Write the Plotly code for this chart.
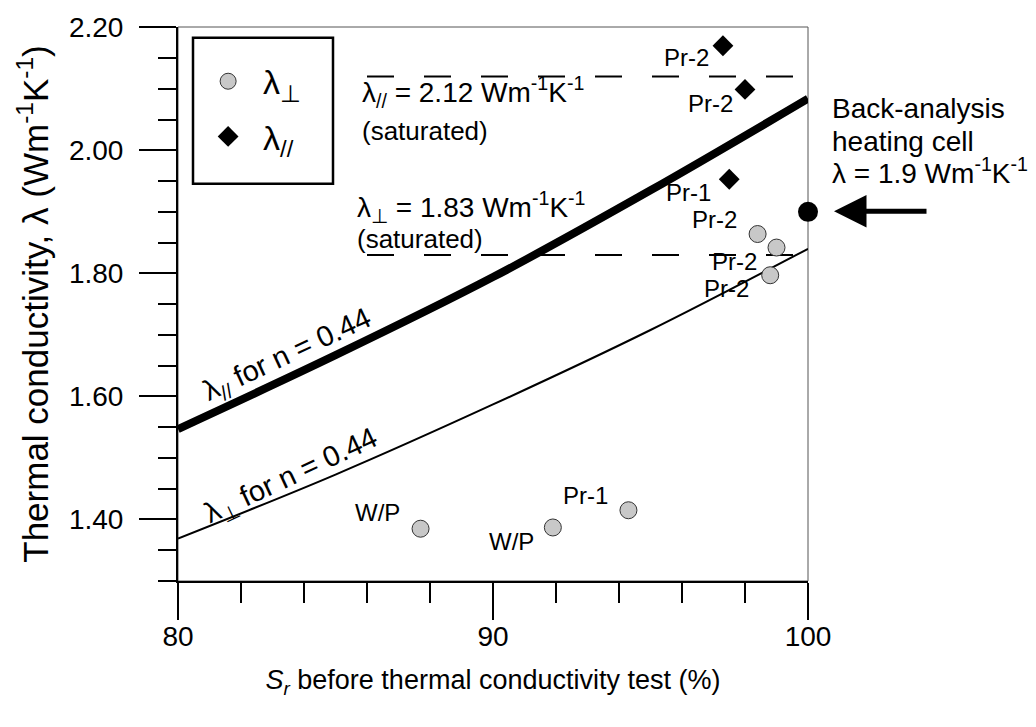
import plotly.graph_objects as go

# ---------------- data ----------------
sr_curve = [80, 85, 90, 95, 100]
lam_par_curve = [1.547, 1.667, 1.794, 1.935, 2.084]    # lambda // for n = 0.44
lam_perp_curve = [1.369, 1.473, 1.587, 1.708, 1.840]   # lambda perp for n = 0.44

perp_sr = [87.7, 91.9, 94.3, 98.4, 99.0, 98.8]
perp_lam = [1.385, 1.387, 1.415, 1.864, 1.842, 1.797]
perp_labels = ["W/P", "W/P", "Pr-1", "Pr-2", "Pr-2", "Pr-2"]

par_sr = [97.3, 98.0, 97.5]
par_lam = [2.170, 2.099, 1.953]
par_labels = ["Pr-2", "Pr-2", "Pr-1"]

sat_sr = [86.0, 100.0]
sat_par = 2.12
sat_perp = 1.83

back_sr = [100]
back_lam = [1.9]

x_tickvals = [80, 90, 100]
y_tickvals = [1.40, 1.60, 1.80, 2.00, 2.20]
y_ticktext = ["1.40", "1.60", "1.80", "2.00", "2.20"]

# ---------------- styles ----------------
FONT = "Liberation Sans, Arial, sans-serif"
perp_offsets = [(-19, 16), (-17, -14), (-18, 15), (-19, 15), (-18, -14), (-19, -13)]
par_offsets = [(-12, -12), (-10, -14), (-16, -13)]

fig = go.Figure()

# saturated dashed lines
fig.add_trace(go.Scatter(x=sat_sr, y=[sat_par, sat_par], mode="lines",
                         line=dict(color="black", width=2, dash="27px,30px"),
                         showlegend=False, hoverinfo="skip"))
fig.add_trace(go.Scatter(x=sat_sr, y=[sat_perp, sat_perp], mode="lines",
                         line=dict(color="black", width=2, dash="27px,30px"),
                         showlegend=False, hoverinfo="skip"))

# model curves
fig.add_trace(go.Scatter(x=sr_curve, y=lam_par_curve, mode="lines",
                         line=dict(color="black", width=8, shape="spline"),
                         showlegend=False))
fig.add_trace(go.Scatter(x=sr_curve, y=lam_perp_curve, mode="lines",
                         line=dict(color="black", width=2, shape="spline"),
                         showlegend=False))

# measured points
fig.add_trace(go.Scatter(x=perp_sr, y=perp_lam, mode="markers",
                         name="λ<sub>⊥</sub>", legendgroup="a",
                         marker=dict(symbol="circle", size=17, color="#c8c8c8",
                                     line=dict(color="#333333", width=1))))
fig.add_trace(go.Scatter(x=par_sr, y=par_lam, mode="markers",
                         name="λ<sub>//</sub>", legendgroup="b",
                         marker=dict(symbol="diamond", size=16, color="black",
                                     line=dict(color="black", width=0))))

# back-analysis point
fig.add_trace(go.Scatter(x=back_sr, y=back_lam, mode="markers", cliponaxis=False,
                         marker=dict(symbol="circle", size=20, color="black"),
                         showlegend=False))

annotations = []
for xv, yv, t, (dx, dy) in zip(perp_sr, perp_lam, perp_labels, perp_offsets):
    annotations.append(dict(x=xv, y=yv, xref="x", yref="y", text=t, showarrow=False,
                            xanchor="right", yanchor="middle", xshift=dx, yshift=dy,
                            font=dict(size=24, color="black", family=FONT)))
for xv, yv, t, (dx, dy) in zip(par_sr, par_lam, par_labels, par_offsets):
    annotations.append(dict(x=xv, y=yv, xref="x", yref="y", text=t, showarrow=False,
                            xanchor="right", yanchor="middle", xshift=dx, yshift=dy,
                            font=dict(size=24, color="black", family=FONT)))


def px2paper(px, py):
    return (px - 178) / 630.0, (581 - py) / 562.0


def text_at(px, py, txt, size=25, xanchor="left", angle=0):
    x, y = px2paper(px, py)
    annotations.append(dict(x=x, y=y, xref="paper", yref="paper", text=txt,
                            showarrow=False, xanchor=xanchor, yanchor="middle",
                            textangle=angle,
                            font=dict(size=size, color="black", family=FONT)))


text_at(360, 85, "λ<sub>//</sub> = 2.12 Wm<sup>-1</sup>K<sup>-1</sup>", size=28)
text_at(360, 124, "(saturated)", size=26)
text_at(355, 202, "λ<sub>⊥</sub> = 1.83 Wm<sup>-1</sup>K<sup>-1</sup>", size=28)
text_at(355, 234, "(saturated)", size=26)
text_at(287, 353, "λ<sub>//</sub> for n = 0.44", size=29, xanchor="center", angle=-25)
text_at(291, 476, "λ<sub>⊥</sub> for n = 0.44", size=29, xanchor="center", angle=-25)
text_at(830, 102, "Back-analysis", size=28)
text_at(830, 135, "heating cell", size=28)
text_at(830, 165, "λ = 1.9 Wm<sup>-1</sup>K<sup>-1</sup>", size=28)

# arrow
ax_, ay_ = px2paper(834, 206)
annotations.append(dict(x=ax_, y=ay_, xref="paper", yref="paper", text="",
                        showarrow=True, ax=94, ay=0, arrowhead=2, arrowsize=1.3,
                        arrowwidth=5, arrowcolor="black"))

# legend frame
lx0, ly1 = px2paper(193, 30)
lx1, ly0 = px2paper(333, 178)

fig.update_layout(
    width=1036, height=727,
    margin=dict(l=178, r=228, t=19, b=146),
    paper_bgcolor="white", plot_bgcolor="white",
    font=dict(family=FONT, color="black"),
    annotations=annotations,
    shapes=[dict(type="rect", xref="paper", yref="paper", x0=0, y0=0, x1=1, y1=1,
                 line=dict(color="#555555", width=1), layer="below"),
            dict(type="rect", xref="paper", yref="paper", x0=lx0, y0=ly0, x1=lx1, y1=ly1,
                 line=dict(color="black", width=2.5), fillcolor="white", layer="below")],
    legend=dict(x=0.024, y=(581 - 45) / 562.0, xanchor="left", yanchor="top",
                borderwidth=0, bgcolor="rgba(0,0,0,0)",
                font=dict(size=34, family=FONT), tracegroupgap=8,
                itemwidth=60),
    xaxis=dict(range=[80, 100], tickmode="array", tickvals=x_tickvals,
               ticks="outside", ticklen=37, tickwidth=2, tickcolor="black",
               minor=dict(tick0=80, dtick=2, ticks="outside", ticklen=20,
                          tickwidth=2, tickcolor="black"),
               showline=True, linewidth=2, linecolor="black",
               showgrid=False, zeroline=False, ticklabelstandoff=-8,
               tickfont=dict(size=28, family=FONT),
               title=dict(text="<i>S<sub>r</sub></i> before thermal conductivity test (%)",
                          font=dict(size=27, family=FONT), standoff=20)),
    yaxis=dict(range=[1.30, 2.2005], tickmode="array", tickvals=y_tickvals,
               ticktext=y_ticktext,
               ticks="outside", ticklen=37, tickwidth=2, tickcolor="black",
               minor=dict(tick0=1.4, dtick=0.05, ticks="outside", ticklen=18,
                          tickwidth=2, tickcolor="black"),
               showline=True, linewidth=2, linecolor="black",
               showgrid=False, zeroline=False, ticklabelstandoff=10,
               tickfont=dict(size=28, family=FONT),
               title=dict(text="Thermal conductivity, λ (Wm<sup>-1</sup>K<sup>-1</sup>)",
                          font=dict(size=35, family=FONT), standoff=10)),
)

fig.write_html("out.html")
